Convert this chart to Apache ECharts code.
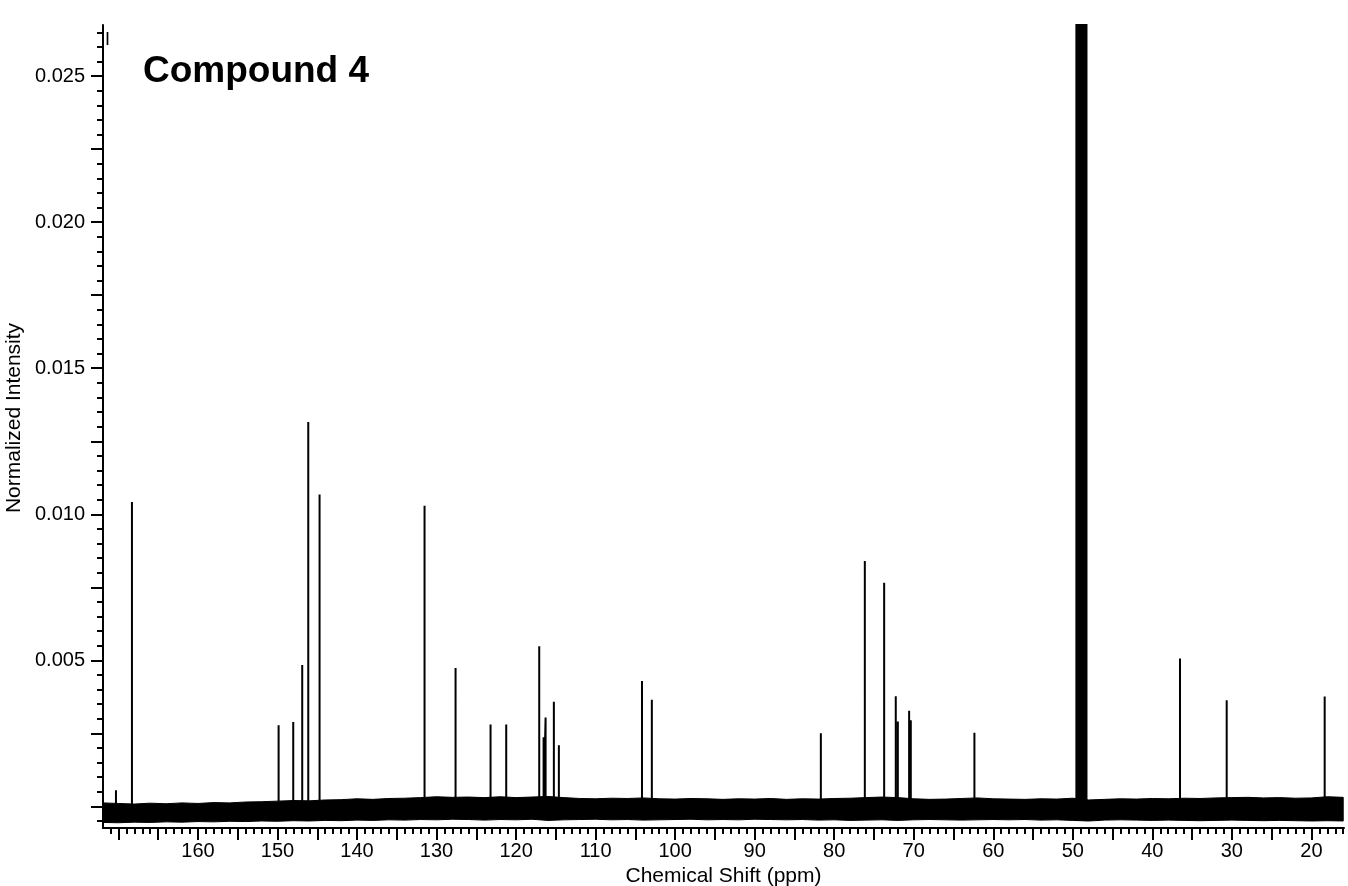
<!DOCTYPE html>
<html>
<head>
<meta charset="utf-8">
<script src="https://cdn.jsdelivr.net/npm/echarts@6.0.0/dist/echarts.min.js"></script>
<style>
html,body{margin:0;padding:0;background:#fff;}
#chart{width:1348px;height:886px;}
</style>
</head>
<body>
<div id="chart"></div>
<script>
// ---- Data ----
const title = 'Compound 4';
const xTitle = 'Chemical Shift (ppm)';
const yTitle = 'Normalized Intensity';

// Peak positions (ppm) and heights (normalized intensity)
const peakPpm = [170.31, 168.30, 149.86, 148.02, 146.89, 146.13, 144.71, 131.51, 127.61, 123.21,
                 121.24, 117.09, 116.54, 116.29, 115.25, 114.62, 104.17, 102.93, 81.68, 76.15,
                 73.72, 72.26, 72.00, 70.58, 70.37, 62.37,
                 49.55, 49.34, 49.13, 48.92, 48.71, 48.49, 48.28,
                 36.52, 30.65, 18.33];
const peakHeight = [0.00055, 0.01042, 0.00278, 0.00289, 0.00484, 0.01316, 0.01068, 0.01029, 0.00474, 0.00280,
                    0.00280, 0.00548, 0.00237, 0.00304, 0.00358, 0.00209, 0.00429, 0.00365, 0.00250, 0.00840,
                    0.00766, 0.00377, 0.00291, 0.00327, 0.00295, 0.00252,
                    0.035, 0.090, 0.160, 0.190, 0.160, 0.090, 0.035,
                    0.00506, 0.00363, 0.00376];

// Baseline noise envelope (upper and lower edge of the noise band)
const noisePpm = [172,170,168,166,164,162,160,158,156,154,
                  152,150,148,146,144,142,140,138,136,134,
                  132,130,128,126,124,122,120,118,116,114,
                  112,110,108,106,104,102,100,98,96,94,
                  92,90,88,86,84,82,80,78,76,74,
                  72,70,68,66,64,62,60,58,56,54,
                  52,50,48,46,44,42,40,38,36,34,
                  32,30,28,26,24,22,20,18,16];
const noiseTop = [0.00012,0.00010,0.00008,0.00011,0.00009,0.00012,0.00010,0.00013,0.00012,0.00015,
                  0.00016,0.00018,0.00020,0.00019,0.00022,0.00023,0.00026,0.00024,0.00027,0.00028,
                  0.00030,0.00033,0.00031,0.00032,0.00030,0.00033,0.00030,0.00032,0.00034,0.00030,
                  0.00027,0.00026,0.00028,0.00027,0.00029,0.00026,0.00025,0.00027,0.00026,0.00024,
                  0.00026,0.00025,0.00027,0.00024,0.00026,0.00025,0.00027,0.00028,0.00030,0.00032,
                  0.00030,0.00026,0.00024,0.00025,0.00027,0.00029,0.00026,0.00025,0.00024,0.00026,
                  0.00025,0.00028,0.00022,0.00024,0.00026,0.00025,0.00027,0.00026,0.00028,0.00027,
                  0.00029,0.00030,0.00031,0.00029,0.00030,0.00028,0.00029,0.00033,0.00031];
const noiseBottom = [-0.00055,-0.00056,-0.00054,-0.00055,-0.00053,-0.00054,-0.00052,-0.00053,-0.00051,-0.00052,
                     -0.00050,-0.00051,-0.00049,-0.00050,-0.00048,-0.00049,-0.00047,-0.00048,-0.00046,-0.00047,
                     -0.00045,-0.00046,-0.00044,-0.00045,-0.00047,-0.00045,-0.00046,-0.00044,-0.00048,-0.00046,
                     -0.00045,-0.00044,-0.00046,-0.00045,-0.00047,-0.00046,-0.00045,-0.00044,-0.00046,-0.00045,
                     -0.00046,-0.00044,-0.00045,-0.00046,-0.00045,-0.00047,-0.00046,-0.00048,-0.00047,-0.00046,
                     -0.00048,-0.00046,-0.00045,-0.00046,-0.00047,-0.00046,-0.00045,-0.00046,-0.00045,-0.00047,
                     -0.00046,-0.00048,-0.00050,-0.00047,-0.00046,-0.00047,-0.00048,-0.00047,-0.00048,-0.00049,
                     -0.00048,-0.00047,-0.00048,-0.00049,-0.00048,-0.00049,-0.00050,-0.00049,-0.00050];

// Axis ranges and tick labels
const xMin = 15.9, xMax = 171.94;
const yMin = -0.00074, yMax = 0.02675;
const xLabelValues = [20,30,40,50,60,70,80,90,100,110,120,130,140,150,160];
const yLabelValues = [0.005,0.010,0.015,0.020,0.025];

// tick positions
const xMajorTicks = []; for (let v = 20; v <= 170; v += 5) xMajorTicks.push(v);
const xMinorTicks = []; for (let v = 16; v <= 171; v += 1) xMinorTicks.push(v);
const yMajorTicks = []; for (let k = 0; k <= 10; k++) yMajorTicks.push(+(k*0.0025).toFixed(4));
const yMinorTicks = []; for (let k = -1; k <= 53; k++) yMinorTicks.push(+(k*0.0005).toFixed(4));

// ---- build series data ----
const spectrum = [];
peakPpm.forEach((p, i) => { spectrum.push([p, 0], [p, peakHeight[i]], [p, 0]); });

const FONT = 'Liberation Sans, Arial, Helvetica, sans-serif';
const tickStyle = {color:'#000', width:2};

function renderNoiseBand(params, api) {
  const pts = [];
  for (let i = 0; i < noisePpm.length; i++) pts.push(api.coord([noisePpm[i], noiseTop[i]]));
  for (let i = noisePpm.length - 1; i >= 0; i--) pts.push(api.coord([noisePpm[i], noiseBottom[i]]));
  return {type:'polygon', shape:{points:pts}, style:{fill:'#000', stroke:'#000', lineWidth:1}};
}

const chart = echarts.init(document.getElementById('chart'), null, {renderer:'canvas'});
chart.setOption({
  animation: false,
  backgroundColor: '#fff',
  grid: {left:103, right:4, top:25, bottom:58, containLabel:false, outerBoundsMode:'none'},
  xAxis: [
    {type:'value', inverse:true, min:xMin, max:xMax, position:'bottom', z:5,
     axisLine:{show:true, onZero:false, lineStyle:{color:'#000', width:2}},
     axisTick:{show:true, customValues:xMajorTicks, length:12, lineStyle:tickStyle},
     axisLabel:{customValues:xLabelValues, margin:13, fontSize:20, color:'#000', fontFamily:FONT},
     splitLine:{show:false},
     name:xTitle, nameLocation:'middle', nameGap:36,
     nameTextStyle:{fontSize:21, color:'#000', fontFamily:FONT}},
    {type:'value', inverse:true, min:xMin, max:xMax, position:'bottom', z:5,
     axisLine:{show:false, onZero:false},
     axisTick:{show:true, customValues:xMinorTicks, length:6, lineStyle:tickStyle},
     axisLabel:{show:false}, splitLine:{show:false}}
  ],
  yAxis: [
    {type:'value', min:yMin, max:yMax, position:'left', z:5,
     axisLine:{show:true, onZero:false, lineStyle:{color:'#000', width:2}},
     axisTick:{show:true, customValues:yMajorTicks, length:12, lineStyle:tickStyle},
     axisLabel:{customValues:yLabelValues, margin:18, fontSize:20, color:'#000', fontFamily:FONT,
                formatter: v => Number(v).toFixed(3)},
     splitLine:{show:false}},
    {type:'value', min:yMin, max:yMax, position:'left', z:5,
     axisLine:{show:false, onZero:false},
     axisTick:{show:true, customValues:yMinorTicks, length:6, lineStyle:tickStyle},
     axisLabel:{show:false}, splitLine:{show:false}}
  ],
  series: [
    {type:'custom', name:'noise', renderItem:renderNoiseBand, data:[[noisePpm[0], 0]],
     clip:true, silent:true, z:1},
    {type:'line', name:'spectrum', data:spectrum, showSymbol:false, symbol:'none',
     clip:true, lineStyle:{width:2, color:'#000'}, silent:true, z:2}
  ],
  graphic: [
    {type:'text', z:100, left:143, top:53, style:{text:title, fontSize:37, fontWeight:'bold', fill:'#000', fontFamily:FONT}},
    {type:'text', z:100, x:14, y:418, rotation:Math.PI/2,
     style:{text:yTitle, fontSize:21, fill:'#000', fontFamily:FONT, align:'center', verticalAlign:'middle'}},
    {type:'text', z:100, x:105, y:31, style:{text:'I', fontSize:18, fill:'#000', fontFamily:FONT}}
  ]
});
</script>
</body>
</html>
